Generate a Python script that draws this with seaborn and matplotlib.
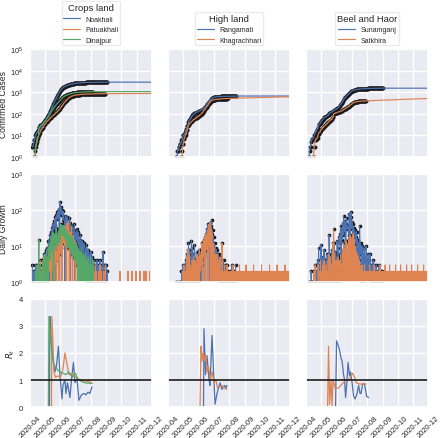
import pandas as pd
import matplotlib
matplotlib.use("Agg")
import matplotlib.pyplot as plt
import matplotlib.dates as mdates
import seaborn as sns

END = "2020-12-01"

# ---- Crops land: daily new confirmed cases (observed period) ----
noakhali_start = "2020-04-06"
noakhali_new = [3, 0, 1, 2, 0, 1, 3, 1, 2, 1,
                0, 2, 1, 1, 0, 3, 2, 2, 0, 1,
                4, 2, 3, 6, 0, 5, 2, 4, 7, 4,
                9, 6, 14, 8, 0, 20, 16, 11, 25, 31,
                0, 42, 35, 28, 50, 38, 64, 0, 72, 55,
                88, 60, 96, 110, 0, 170, 84, 120, 75, 98,
                75, 52, 92, 60, 48, 0, 70, 55, 38, 66,
                40, 52, 30, 38, 61, 0, 45, 30, 27, 35,
                36, 22, 18, 28, 41, 0, 19, 25, 14, 30,
                18, 11, 24, 12, 0, 15, 20, 9, 7, 14,
                10, 5, 8, 12, 0, 6, 9, 4, 11, 7,
                0, 8, 5, 3, 6, 4, 0, 7, 3, 2,
                5, 0, 3, 4, 2, 2, 0, 3, 1, 4,
                0, 3, 2, 2, 0, 4, 1, 3, 0, 2,
                0, 7, 2, 3, 0, 2, 1, 3, 0, 2, 0]

patuakhali_start = "2020-04-10"
patuakhali_new = [1, 0, 1, 2, 0, 1, 1, 3, 0, 2,
                  1, 1, 4, 0, 2, 1, 3, 0, 1, 5,
                  2, 3, 0, 6, 2, 1, 4, 0, 5, 3,
                  2, 4, 6, 0, 3, 8, 2, 5, 2, 0,
                  9, 3, 6, 11, 0, 7, 4, 12, 8, 0,
                  14, 6, 22, 9, 30, 0, 18, 26, 12, 35,
                  22, 10, 35, 28, 0, 44, 20, 12, 48, 30,
                  0, 24, 18, 9, 36, 14, 0, 20, 11, 6,
                  14, 9, 0, 12, 7, 4, 10, 0, 8, 6,
                  3, 7, 5, 0, 4, 2, 6, 3, 0, 5,
                  2, 3, 4, 0, 2, 1, 3, 0, 2, 1,
                  2, 0, 3, 1, 0, 2, 1, 1, 0, 2,
                  1, 0, 3, 0, 2, 1, 0, 1, 0, 2,
                  0, 3, 1, 0, 2, 0, 1, 0, 1, 2, 0, 0, 3]
patuakhali_late_dates = ["2020-09-28", "2020-10-14", "2020-10-22", "2020-10-30",
                         "2020-11-07", "2020-11-15", "2020-11-19", "2020-11-26"]
patuakhali_late_new = [2, 2, 2, 2, 2, 2, 2, 2]

dinajpur_start = "2020-04-10"
dinajpur_new = [1, 0, 2, 0, 1, 3, 0, 1, 2, 15,
                0, 1, 3, 0, 2, 1, 0, 4, 2, 3,
                0, 6, 3, 0, 8, 2, 5, 0, 9, 4,
                12, 4, 6, 18, 7, 14, 9, 24, 0, 20,
                12, 22, 8, 16, 32, 11, 20, 10, 26, 14,
                30, 18, 12, 40, 24, 35, 20, 38, 20, 28,
                15, 32, 16, 24, 10, 12, 28, 9, 20, 10,
                22, 8, 14, 18, 6, 20, 8, 5, 15, 6,
                11, 4, 9, 13, 3, 5, 10, 0, 8, 4,
                0, 7, 5, 0, 9, 3, 0, 6, 2, 5,
                0, 3, 6, 0, 4, 2, 0, 5, 0, 3,
                0, 2, 5, 0, 3, 1, 0, 4]

# ---- High land ----
rangamati_start = "2020-04-17"
rangamati_new = [1, 0, 0, 1, 0, 0, 1, 0, 1, 0,
                 0, 2, 0, 1, 3, 0, 1, 0, 2, 1,
                 4, 2, 6, 0, 3, 12, 4, 8, 0, 5,
                 3, 14, 0, 9, 5, 6, 0, 11, 2, 4,
                 0, 7, 3, 3, 0, 8, 2, 5, 0, 2,
                 4, 9, 0, 4, 12, 6, 15, 0, 10, 18,
                 8, 25, 30, 0, 40, 14, 30, 45, 0, 35,
                 20, 52, 0, 28, 12, 18, 0, 12, 6, 9,
                 0, 8, 3, 5, 0, 6, 2, 3, 0, 4,
                 2, 3, 0, 2, 1, 4, 0, 0, 2, 1,
                 3, 0, 1, 2, 0, 0, 1, 0, 2, 0,
                 0, 1, 3, 0, 0, 2, 0, 1, 0, 3, 0]

khagrachhari_start = "2020-04-28"
khagrachhari_new = [1, 0, 1, 2, 0, 3, 1, 1, 2, 0,
                    2, 5, 0, 8, 4, 1, 6, 0, 3, 2,
                    0, 4, 3, 1, 5, 0, 2, 4, 1, 3,
                    0, 6, 2, 1, 5, 0, 8, 2, 4, 6,
                    3, 12, 0, 9, 14, 5, 18, 0, 22, 8,
                    20, 8, 28, 0, 40, 22, 10, 45, 0, 30,
                    12, 22, 0, 12, 6, 9, 0, 6, 3, 5,
                    0, 6, 2, 4, 0, 3, 1, 5, 0, 2,
                    0, 12, 1, 0, 2, 0, 3, 1, 0, 2, 0, 3, 1, 0]
khagrachhari_late = [0, 2, 0, 0, 2, 0, 2, 0, 0, 3, 0, 2, 0, 0, 2, 0, 2, 0, 0, 2,
                     0, 0, 3, 0, 2, 0, 0, 2, 0, 2, 0, 0, 2, 0, 0, 3, 0, 2, 0, 0,
                     2, 0, 2, 0, 0, 2, 0, 0, 2, 0, 3, 0, 0, 2, 0, 2, 0, 0, 2, 0,
                     0, 2, 0, 2, 0, 0, 3, 0, 0, 2, 0, 2, 0, 0, 2, 0, 0, 2, 0, 2,
                     0, 0, 3, 0, 2, 0, 0, 2, 0, 0, 2, 0, 2, 0, 0, 2, 0, 3, 0, 0,
                     2, 0, 2, 0, 0, 2, 0, 0, 2, 0, 2, 0, 0, 3, 0, 0, 2, 0, 2, 0,
                     0, 2, 0, 2]

# ---- Beel and Haor ----
sunamganj_start = "2020-04-06"
sunamganj_new = [1, 0, 1, 1, 0, 2, 1, 1, 0, 1,
                 0, 2, 1, 1, 3, 0, 2, 1, 4, 0,
                 9, 2, 0, 3, 1, 11, 0, 2, 3, 5,
                 2, 8, 0, 4, 1, 3, 0, 6, 2, 2,
                 0, 20, 3, 3, 0, 5, 2, 8, 1, 6,
                 4, 12, 0, 7, 3, 5, 0, 14, 6, 9,
                 5, 18, 12, 22, 35, 0, 28, 15, 45, 20,
                 70, 25, 45, 50, 0, 40, 60, 30, 32, 35,
                 20, 80, 55, 0, 62, 88, 30, 48, 40, 0,
                 32, 0, 28, 22, 12, 18, 25, 0, 15, 8,
                 12, 0, 35, 6, 12, 8, 0, 10, 4, 6,
                 0, 9, 3, 5, 0, 10, 2, 4, 0, 6,
                 2, 4, 0, 6, 1, 3, 0, 2, 2, 4,
                 0, 3, 1, 2, 0, 3, 1, 0, 2, 0,
                 1, 3, 0, 1, 2, 0, 1, 2, 0]

satkhira_start = "2020-04-14"
satkhira_new = [1, 0, 0, 2, 0, 3, 0, 1, 0, 1,
                0, 3, 1, 2, 0, 0, 4, 0, 2, 0,
                3, 0, 1, 4, 0, 2, 0, 3, 1, 2,
                0, 4, 2, 6, 0, 1, 5, 0, 3, 0,
                12, 0, 30, 2, 6, 0, 1, 4, 0, 3,
                2, 5, 0, 1, 4, 0, 6, 2, 3, 0,
                8, 3, 12, 0, 4, 9, 0, 14, 5, 7,
                0, 12, 6, 16, 0, 20, 8, 14, 0, 18,
                8, 22, 0, 15, 6, 10, 0, 7, 3, 6,
                0, 5, 2, 4, 0, 3, 1, 2, 0, 3,
                0, 2, 1, 0, 3, 0, 2]
satkhira_late = [0, 0, 2, 0, 2, 0, 0, 3, 0, 2, 0, 2, 0, 0, 2, 0, 3, 0, 2, 0,
                 0, 2, 0, 2, 0, 0, 2, 0, 3, 0, 2, 0, 0, 2, 0, 2, 0, 0, 3, 0,
                 2, 0, 2, 0, 0, 2, 0, 3, 0, 0, 2, 0, 2, 0, 0, 2, 0, 2, 0, 3,
                 0, 0, 2, 0, 2, 0, 0, 2, 0, 3, 0, 2, 0, 0, 2, 0, 2, 0, 0, 2,
                 0, 3, 0, 2, 0, 0, 2, 0, 2, 0, 0, 3, 0, 2, 0, 0, 2, 0, 2, 0,
                 0, 2, 0, 3, 0, 2, 0, 0, 2, 0, 2, 0, 0, 2, 0, 3, 0, 0, 2, 0,
                 2, 0, 0, 2, 0]

# ---- effective reproduction number R_t ----
noakhali_rt_dates = ["2020-05-10", "2020-05-11", "2020-05-13", "2020-05-17", "2020-05-21",
                     "2020-05-24", "2020-05-28", "2020-05-31", "2020-06-04", "2020-06-06",
                     "2020-06-10", "2020-06-12", "2020-06-15", "2020-06-20", "2020-06-23",
                     "2020-06-27", "2020-06-30", "2020-07-04", "2020-07-08", "2020-07-13",
                     "2020-07-18", "2020-07-22", "2020-07-26", "2020-07-30", "2020-08-03"]
noakhali_rt = [0, 3.35, 2.6, 1.8, 1.3, 1.5, 2.25, 1.2, 0.3, 0.8, 1.0, 0.5, 0.9,
               0.35, 1.0, 1.65, 0.9, 1.05, 0.25, 0.45, 0.5, 0.45, 0.55, 0.5, 0.75]

patuakhali_rt_dates = ["2020-05-14", "2020-05-15", "2020-05-19", "2020-05-22", "2020-05-27",
                       "2020-06-01", "2020-06-06", "2020-06-10", "2020-06-15", "2020-06-18",
                       "2020-06-23", "2020-06-27", "2020-07-03", "2020-07-10", "2020-07-16",
                       "2020-07-23", "2020-07-28", "2020-08-03"]
patuakhali_rt = [0, 3.35, 1.3, 1.1, 1.15, 1.1, 1.4, 2.0, 1.5, 1.2, 1.25, 1.15,
                 1.1, 1.0, 0.98, 0.95, 0.95, 0.88]

dinajpur_rt_dates = ["2020-05-08", "2020-05-09", "2020-05-14", "2020-05-18", "2020-05-22",
                     "2020-05-27", "2020-06-01", "2020-06-06", "2020-06-12", "2020-06-17",
                     "2020-06-21", "2020-06-25", "2020-07-01", "2020-07-05", "2020-07-13",
                     "2020-07-19", "2020-07-26", "2020-08-03"]
dinajpur_rt = [0, 3.35, 2.2, 1.6, 1.5, 1.35, 1.3, 1.25, 1.2, 1.3, 1.2, 1.1,
               1.25, 1.05, 0.95, 0.9, 0.88, 0.88]

rangamati_rt_dates = ["2020-06-11", "2020-06-12", "2020-06-15", "2020-06-18", "2020-06-22",
                      "2020-06-24", "2020-06-28", "2020-07-04", "2020-07-08", "2020-07-11",
                      "2020-07-14", "2020-07-18", "2020-07-23", "2020-07-26", "2020-07-28"]
rangamati_rt = [0, 2.9, 1.2, 1.9, 1.0, 0.8, 2.65, 0.1, 0.5, 0.7, 0.9, 0.65, 0.8, 0.7, 0.8]

khagrachhari_rt_dates = ["2020-06-04", "2020-06-06", "2020-06-08", "2020-06-10", "2020-06-13",
                         "2020-06-15", "2020-06-18", "2020-06-21", "2020-06-25", "2020-06-28",
                         "2020-07-02", "2020-07-06", "2020-07-09", "2020-07-14", "2020-07-18",
                         "2020-07-23", "2020-07-27"]
khagrachhari_rt = [0, 2.25, 1.7, 2.0, 1.7, 1.95, 1.3, 1.5, 1.0, 1.3, 0.9, 1.0,
                   0.7, 0.75, 0.8, 0.7, 0.65]

sunamganj_rt_dates = ["2020-05-30", "2020-06-01", "2020-06-04", "2020-06-07", "2020-06-10",
                      "2020-06-12", "2020-06-15", "2020-06-17", "2020-06-19", "2020-06-22",
                      "2020-06-24", "2020-06-27", "2020-06-29", "2020-07-02", "2020-07-05",
                      "2020-07-08", "2020-07-12", "2020-07-15", "2020-07-18", "2020-07-20",
                      "2020-07-23", "2020-07-27", "2020-07-31", "2020-08-04"]
sunamganj_rt = [0, 2.45, 2.3, 2.1, 1.8, 1.7, 1.2, 1.0, 0.35, 1.0, 1.65, 1.15,
                1.3, 0.9, 0.4, 0.3, 0.5, 0.8, 0.5, 0.5, 0.85, 0.85, 0.4, 0.35]

satkhira_rt_dates = ["2020-05-14", "2020-05-16", "2020-05-18", "2020-05-21", "2020-05-23",
                     "2020-05-25", "2020-05-26", "2020-05-29", "2020-06-04", "2020-06-07",
                     "2020-06-12", "2020-06-17", "2020-06-23", "2020-06-27", "2020-06-30",
                     "2020-07-03", "2020-07-07", "2020-07-10", "2020-07-17", "2020-07-23",
                     "2020-07-30"]
satkhira_rt = [0, 2.25, 0.1, 1.0, 0.05, 1.0, 0.95, 0.7, 0.7, 0.75, 0.85, 0.95,
               1.05, 1.0, 1.15, 1.25, 1.1, 0.9, 0.85, 0.85, 0.85]


def daily_frame(start, new, late=None, late_dates=None, late_vals=None):
    obs_idx = pd.date_range(start, periods=len(new), freq="D")
    full_idx = pd.date_range(start, END, freq="D")
    s = pd.Series(0.0, index=full_idx)
    s.loc[obs_idx] = new
    if late is not None:
        n = min(len(late), len(s) - len(new))
        s.iloc[len(new):len(new) + n] = late[:n]
    if late_dates is not None:
        s.loc[pd.to_datetime(late_dates)] = late_vals
    df = pd.DataFrame({"date": full_idx, "new": s.values})
    df["cum"] = df["new"].cumsum()
    df["obs"] = df["date"] <= obs_idx[-1]
    return df


groups = [
    ("Crops land", [
        ("Noakhali", daily_frame(noakhali_start, noakhali_new), noakhali_rt_dates, noakhali_rt),
        ("Patuakhali", daily_frame(patuakhali_start, patuakhali_new,
                                   late_dates=patuakhali_late_dates, late_vals=patuakhali_late_new),
         patuakhali_rt_dates, patuakhali_rt),
        ("Dinajpur", daily_frame(dinajpur_start, dinajpur_new), dinajpur_rt_dates, dinajpur_rt),
    ]),
    ("High land", [
        ("Rangamati", daily_frame(rangamati_start, rangamati_new), rangamati_rt_dates, rangamati_rt),
        ("Khagrachhari", daily_frame(khagrachhari_start, khagrachhari_new, late=khagrachhari_late),
         khagrachhari_rt_dates, khagrachhari_rt),
    ]),
    ("Beel and Haor", [
        ("Sunamganj", daily_frame(sunamganj_start, sunamganj_new), sunamganj_rt_dates, sunamganj_rt),
        ("Satkhira", daily_frame(satkhira_start, satkhira_new, late=satkhira_late),
         satkhira_rt_dates, satkhira_rt),
    ]),
]

sns.set_theme(style="darkgrid")
plt.rcParams["font.family"] = ["Liberation Sans", "DejaVu Sans"]
palette = sns.color_palette("deep")

fig, axes = plt.subplots(3, 3, figsize=(4.4, 4.39), dpi=100, sharex=True, sharey="row")
fig.subplots_adjust(left=0.068, right=0.973, top=0.886, bottom=0.0706, wspace=0.131, hspace=0.157)

for j, (group, districts) in enumerate(groups):
    handles, names = [], []
    for k, (name, df, rt_dates, rt_vals) in enumerate(districts):
        c = palette[k]
        obs = df[df["obs"]]
        # cumulative confirmed cases
        sns.scatterplot(x=obs["date"], y=obs["cum"], color="k", s=8, linewidth=0, ax=axes[0, j])
        sns.lineplot(x=df["date"], y=df["cum"], color=c, lw=0.85, ax=axes[0, j])
        handles.append(axes[0, j].lines[-1])
        names.append(name)
        # daily growth
        pos = obs[obs["new"] > 0]
        sns.scatterplot(x=pos["date"], y=pos["new"], color="k", s=7, linewidth=0, ax=axes[1, j])
        sns.lineplot(x=df["date"], y=df["new"], color=c, lw=0.75, ax=axes[1, j])
        # R_t
        sns.lineplot(x=pd.to_datetime(rt_dates), y=rt_vals, color=c, lw=0.9, ax=axes[2, j])
    axes[2, j].axhline(1, color="k", lw=1.2)
    axes[0, j].legend(handles, names, title=group, loc="lower center",
                      bbox_to_anchor=(0.5, 1.035), fontsize=5, title_fontsize=6.8,
                      handlelength=2.4, labelspacing=0.5, borderpad=0.25, borderaxespad=0,
                      facecolor="white", edgecolor="0.92", framealpha=1)

for ax in axes.flat:
    ax.set_xlabel("")
    ax.set_ylabel("")
    ax.tick_params(length=0, pad=5, labelsize=5.4)

for ax in axes[0]:
    ax.set_yscale("log")
    ax.set_ylim(1, 1e5)
for ax in axes[1]:
    ax.set_yscale("log")
    ax.set_ylim(1, 1e3)
for ax in axes[2]:
    ax.set_ylim(0, 4)
    ax.set_yticks([0, 1, 2, 3, 4])
    ax.tick_params(axis="x", rotation=45)

axes[0, 0].set_xlim(pd.Timestamp("2020-04-01"), pd.Timestamp("2020-12-01"))
axes[0, 0].xaxis.set_major_locator(mdates.MonthLocator())
axes[0, 0].xaxis.set_major_formatter(mdates.DateFormatter("%Y-%m"))

axes[0, 0].set_ylabel("Confirmed Cases", fontsize=6.2, labelpad=1)
axes[1, 0].set_ylabel("Daily Growth", fontsize=6.2, labelpad=1)
axes[2, 0].set_ylabel("$R_t$", fontsize=6.2, labelpad=1)

fig.savefig("out.png", dpi=100)
